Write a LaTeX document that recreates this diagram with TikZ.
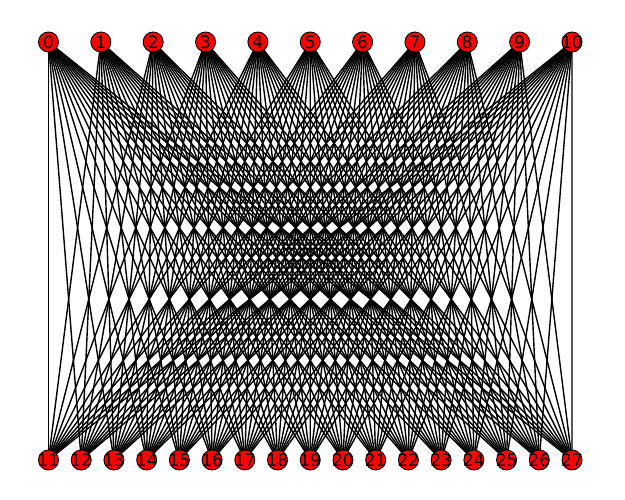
\documentclass[tikz,border=0pt]{standalone}
\usepackage{fontspec}
\setmainfont{DejaVu Sans}
\begin{document}
\begin{tikzpicture}[x=1pt,y=-1pt,
  vert/.style={circle,draw=black,fill=red,line width=0.9pt,minimum size=20pt,inner sep=0pt},
  lbl/.style={font=\fontsize{17}{17}\selectfont,inner sep=0pt},
  edge/.style={black,line width=1.4pt}]
\useasboundingbox (0,0) rectangle (625,500);
\foreach \i in {0,...,10} {
  \coordinate (t\i) at ({48.5+\i*52.35},42);
}
\foreach \j in {11,...,27} {
  \coordinate (b\j) at ({48.5+(\j-11)*32.72},460);
}
\foreach \i in {0,...,10} {
  \foreach \j in {11,...,27} {
    \draw[edge] (t\i) -- (b\j);
  }
}
\foreach \i in {0,...,10} {
  \node[vert] (n\i) at (t\i) {};
  \node[lbl] at (n\i) {\i};
}
\foreach \j in {11,...,27} {
  \node[vert] (n\j) at (b\j) {};
  \node[lbl] at (n\j) {\j};
}
\end{tikzpicture}
\end{document}
